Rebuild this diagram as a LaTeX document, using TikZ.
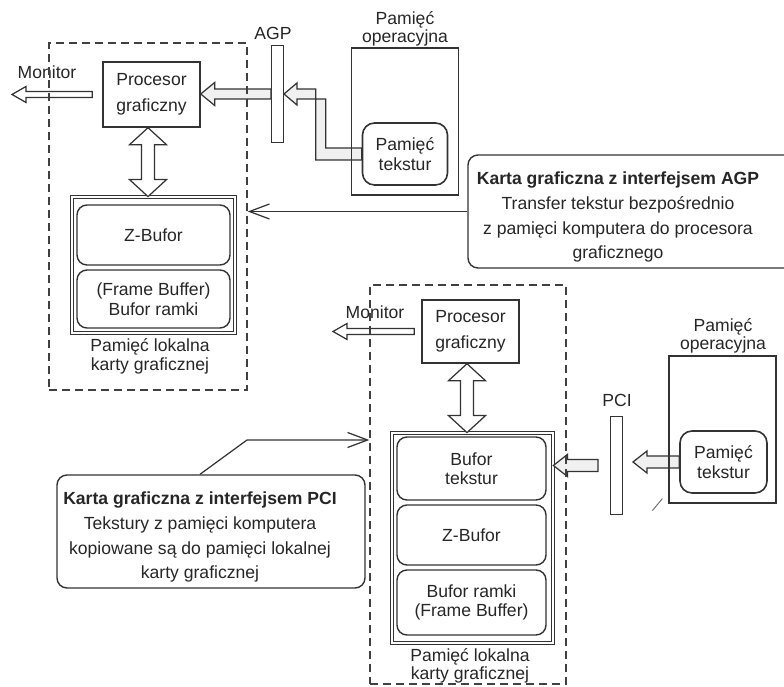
\documentclass[tikz,border=0pt]{standalone}
\usepackage{fontspec}
\setmainfont{Liberation Sans}
\usetikzlibrary{arrows.meta, positioning, fit, calc}
\begin{document}
\begin{tikzpicture}[x=0.2mm,y=-0.2mm,every node/.style={font=\fontsize{10}{11}\selectfont,text=black!85}]
\tikzset{
  pb/.style={rectangle,draw=black!80,line width=0.8pt,fill=white,minimum width=19.4mm,minimum height=13mm,align=center,font=\fontsize{10}{15}\selectfont},
  rb/.style={rectangle,rounded corners=2mm,draw=black!80,line width=0.8pt,minimum width=30.6mm,minimum height=12mm,align=center},
  cb/.style={rectangle,draw=black!80,double,double distance=0.9pt,line width=0.45pt,inner sep=0pt},
  mb/.style={rectangle,draw=black!80,line width=0.7pt,minimum width=21.3mm,minimum height=29.4mm},
  tb/.style={rectangle,rounded corners=2.4mm,draw=black!80,line width=0.9pt,fill=white,minimum width=17mm,minimum height=12.4mm,align=center},
  br/.style={rectangle,draw=black!80,line width=0.7pt,fill=white,minimum width=2.2mm,minimum height=19.5mm},
  db/.style={rectangle,draw=black!75,line width=0.8pt,dash pattern=on 1.6mm off 1mm,inner sep=0pt},
  cl/.style={rectangle,rounded corners=2mm,draw=black!80,line width=0.8pt,inner sep=0pt},
  ct/.style={align=center,font=\fontsize{10}{14.2}\selectfont},
  lb/.style={align=center,font=\fontsize{10}{10.5}\selectfont},
  ar/.style={draw=black!80,line width=0.7pt,fill=gray!12},
  ca/.style={-{Straight Barb[length=4mm,width=3mm]},draw=black!80,line width=0.7pt},
  fa/.style 2 args={to path={let \p1=(\tikztostart), \p2=(\tikztotarget) in
    (\x1,\y1+#1) -- (\x2+2.8mm,\y1+#1) -- (\x2+2.8mm,\y1+#2) -- (\x2,\y1)
    -- (\x2+2.8mm,\y1-#2) -- (\x2+2.8mm,\y1-#1) -- (\x1,\y1-#1) -- cycle}},
  fd/.style={to path={let \p1=(\tikztostart), \p2=(\tikztotarget) in
    (\x1,\y1) -- (\x1+3.7mm,\y1-3.4mm) -- (\x1+1.3mm,\y1-3.4mm) -- (\x1+1.3mm,\y2+3.4mm)
    -- (\x1+3.7mm,\y2+3.4mm) -- (\x1,\y2) -- (\x1-3.7mm,\y2+3.4mm) -- (\x1-1.3mm,\y2+3.4mm)
    -- (\x1-1.3mm,\y1-3.4mm) -- (\x1-3.7mm,\y1-3.4mm) -- cycle}}
}
\clip (0,0) rectangle (784,687);
% karta AGP
\node[pb] (proc1) at (151.5,94.5) {Procesor\\graficzny};
\node[br] (agp1) at (277.5,94) {};
\node[lb] (agpl) at (273,33) {AGP};
\node[tb] (ptex1) at (405,154) {Pamięć\\tekstur};
\node[cb,minimum width=32.6mm,minimum height=27.2mm] (cont1) at (153.5,265) {};
\node[rb] (zb1) at (153.5,235) {Z-Bufor};
\node[rb,minimum height=11.6mm,font=\fontsize{10}{11.3}\selectfont] (fb1) at (153.5,299) {(Frame Buffer)\\Bufor ramki};
\node[lb] (loc1) at (150,356.5) {Pamięć lokalna\\karty graficznej};
\coordinate (mon1) at (12,94.5);
\node[lb] (monl1) at (47,72) {Monitor};
\draw[ar,fill=white,fa={0.6mm}{1.6mm}] ($(proc1.west)+(-10,0)$) to (mon1);
\draw[ar,fa={1mm}{2.3mm}] (agp1.west) to (proc1.east);
\draw[ar] let \p1=(ptex1.west), \p2=(agp1.east) in
  (\x1,\y1+1.2mm) -- (\x1-7.2mm,\y1+1.2mm) -- (\x1-7.2mm,\y2-1mm) -- (\x2+2.6mm,\y2-1mm)
  -- (\x2+2.6mm,\y2-2.2mm) -- (\x2,\y2) -- (\x2+2.6mm,\y2+2.2mm) -- (\x2+2.6mm,\y2+1mm)
  -- (\x1-9.2mm,\y2+1mm) -- (\x1-9.2mm,\y1-1.2mm) -- (\x1,\y1-1.2mm) -- cycle;
\draw[ar,fill=white,fd] ($(proc1.south)+(-3.5,0)$) to ($(cont1.north)+(-3.5,0)$);
\node[mb] (pam1) at (405,121.5) {};
\node[lb] (paml1) at (405,29) {Pamięć\\operacyjna};
\node[db,fit={(49,43) (247,390)}] (card1) {};
\node[cl,fit={(468,155) (800,268)}] (call1) {};
\node[ct] (txt1) at (618,217) {\textbf{Karta graficzna z interfejsem AGP}\\Transfer tekstur bezpośrednio\\z pamięci komputera do procesora\\graficznego};
\draw[ca] (call1.west) -- (call1.west -| card1.east);
% karta PCI
\node[pb,minimum height=12.6mm] (proc2) at (470.5,331.5) {Procesor\\graficzny};
\coordinate (mon2) at (333,331.5);
\node[lb] (monl2) at (375,312) {Monitor};
\node[cb,minimum width=32.2mm,minimum height=42mm] (cont2) at (472.5,538) {};
\node[rb,minimum width=29.8mm,minimum height=12.6mm] (bt2) at (471.5,468.5) {Bufor\\tekstur};
\node[rb,minimum width=29.8mm] (zb2) at (471.5,535) {Z-Bufor};
\node[rb,minimum width=29.8mm,minimum height=13mm,font=\fontsize{10}{11.3}\selectfont] (fb2) at (471.5,602.5) {Bufor ramki\\(Frame Buffer)};
\node[lb] (loc2) at (470,666) {Pamięć lokalna\\karty graficznej};
\node[br] (pci2) at (616.5,465.5) {};
\node[lb] (pcil) at (617,400) {PCI};
\node[tb,minimum width=17.4mm] (ptex2) at (723.5,462) {Pamięć\\tekstur};
\draw[ar,fill=white,fa={0.6mm}{1.6mm}] ($(proc2.west)+(-7,0)$) to (mon2);
\draw[ar,fa={1.2mm}{2.2mm}] ($(pci2.west)+(-12,0)$) to (cont2.east);
\draw[ar,fa={1.2mm}{2.2mm}] (ptex2.west) to ($(pci2.east)+(10,0)$);
\draw[ar,fill=white,fd] ($(proc2.south)+(-3.5,0)$) to ($(cont2.north)+(-3.5,0)$);
\node[mb,minimum width=21.4mm] (pam2) at (722.5,429.5) {};
\node[lb] (paml2) at (723,336) {Pamięć\\operacyjna};
\draw[black!60,line width=0.5pt] ($(pam2.south west)+(-16,7)$) -- ++(10,-12);
\node[db,fit={(370,285) (566,684)}] (card2) {};
\node[cl,fit={(57,475) (365,588)}] (call2) {};
\node[ct] (txt2) at (200,537) {\textbf{Karta graficzna z interfejsem PCI}\\Tekstury z pamięci komputera\\kopiowane są do pamięci lokalnej\\karty graficznej};
\coordinate (kink) at (247,440);
\draw[ca] (txt2.north |- call2.north) -- (kink) -- (kink -| card2.west);
\end{tikzpicture}
\end{document}
